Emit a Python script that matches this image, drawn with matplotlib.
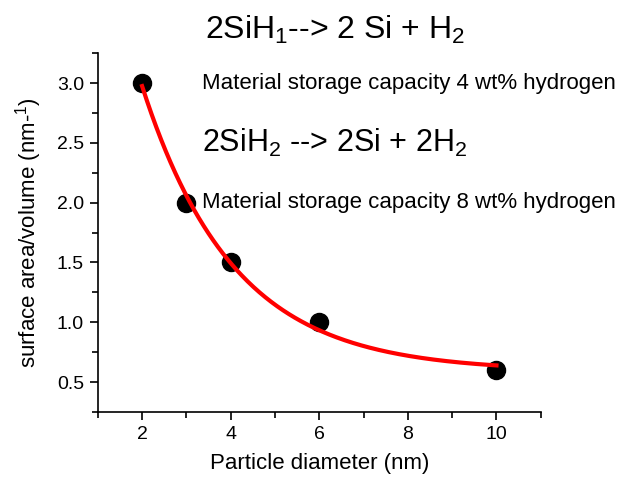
import numpy as np
import matplotlib.pyplot as plt
from matplotlib.ticker import MultipleLocator

plt.rcParams['font.family'] = ['Liberation Sans', 'DejaVu Sans']
plt.rcParams['mathtext.fontset'] = 'custom'
plt.rcParams['mathtext.rm'] = 'Liberation Sans'
plt.rcParams['mathtext.it'] = 'Liberation Sans'

diameter = [2, 3, 4, 6, 10]
sa_vol = [3.0, 2.0, 1.5, 1.0, 0.6]

title1 = r'2SiH$_1$--> 2 Si + H$_2$'
note1 = 'Material storage capacity 4 wt% hydrogen'
title2 = r'2SiH$_2$ --> 2Si + 2H$_2$'
note2 = 'Material storage capacity 8 wt% hydrogen'

# exponential decay fit y = y0 + A*exp(-x/t)
x = np.array(diameter, float)
y = np.array(sa_vol, float)
best = None
for t in np.linspace(0.5, 10, 2000):
    M = np.column_stack([np.ones_like(x), np.exp(-x / t)])
    coef, *_ = np.linalg.lstsq(M, y, rcond=None)
    err = np.sum((M @ coef - y) ** 2)
    if best is None or err < best[0]:
        best = (err, t, coef)
_, t, (y0, A) = best
xf = np.linspace(2, 10, 300)
yf = y0 + A * np.exp(-xf / t)

fig = plt.figure(figsize=(6.23, 4.79), dpi=100)
ax = fig.add_axes([0.157, 0.140, 0.711, 0.749])

ax.plot(diameter, sa_vol, 'o', color='black', markersize=13, zorder=2)
ax.plot(xf, yf, color='red', linewidth=3, zorder=3)

ax.set_xlim(1, 11)
ax.set_ylim(0.25, 3.25)
ax.xaxis.set_major_locator(MultipleLocator(2))
ax.xaxis.set_minor_locator(MultipleLocator(1))
ax.yaxis.set_major_locator(MultipleLocator(0.5))
ax.yaxis.set_minor_locator(MultipleLocator(0.25))
ax.spines['top'].set_visible(False)
ax.spines['right'].set_visible(False)
for s in ['left', 'bottom']:
    ax.spines[s].set_linewidth(1.2)
ax.tick_params(which='major', direction='out', length=6, width=1.2, labelsize=14, pad=4)
ax.tick_params(which='minor', direction='out', length=4, width=1.2)
ax.yaxis.set_major_formatter(plt.FuncFormatter(lambda v, p: f'{v:.1f}'))

ax.set_xlabel('Particle diameter (nm)', fontsize=16, labelpad=7)
ax.set_ylabel(r'surface area/volume (nm-$^{1}$)', fontsize=16, labelpad=9)

fig.text(0.538, 0.937, title1, fontsize=23, ha='center', va='center')
ax.text(3.36, 3.0, note1, fontsize=16, va='center')
ax.text(3.36, 2.5, title2, fontsize=22, va='center')
ax.text(3.36, 2.0, note2, fontsize=16, va='center')

fig.savefig('out.png', dpi=100)
